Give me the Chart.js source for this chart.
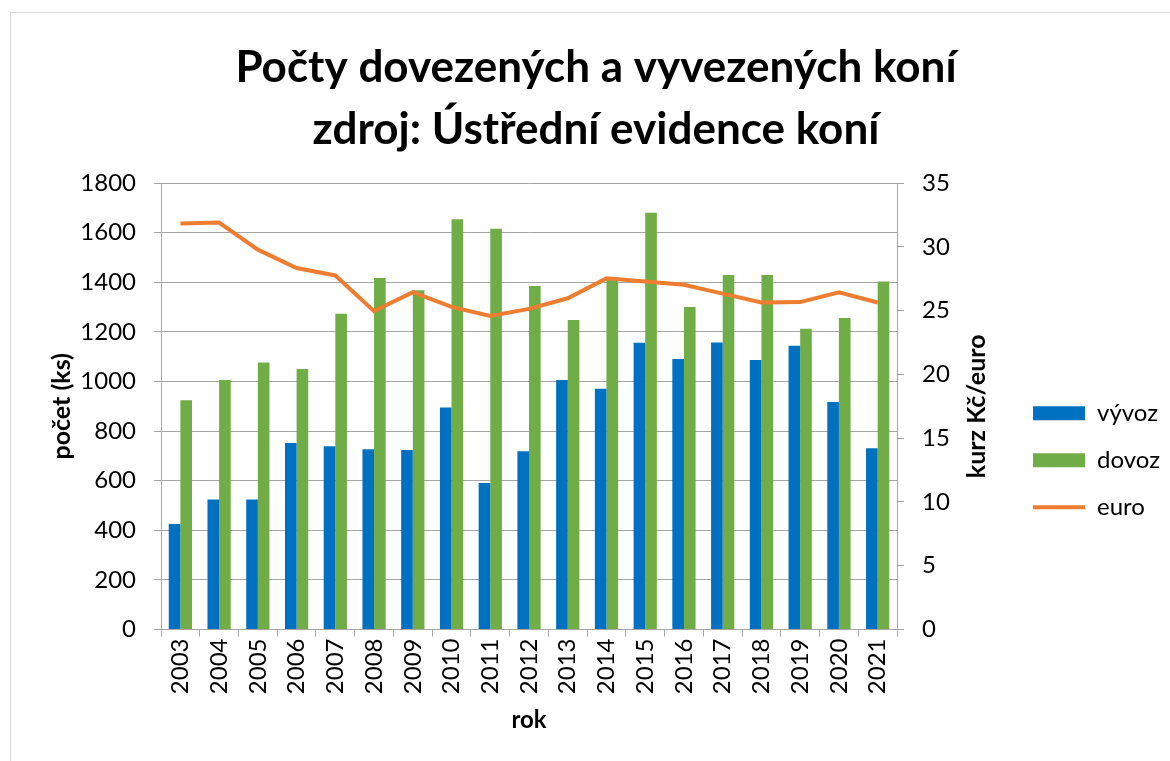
<!DOCTYPE html>
<html>
<head>
<meta charset="utf-8">
<script src="https://cdn.jsdelivr.net/npm/chart.js@4"></script>
<style>
  html, body { margin: 0; padding: 0; background: #fff; }
  #wrap { position: relative; width: 1170px; height: 761px; }
  #frame { position: absolute; left: 10px; top: 12px; width: 1170px; height: 760px; border: 1px solid #d9d9d9; box-sizing: border-box; }
  canvas { position: absolute; left: 0; top: 0; }
</style>
</head>
<body>
<div id="wrap">
  <div id="frame"></div>
  <canvas id="chart" width="1170" height="761"></canvas>
</div>
<script>
// data
const roky = ['2003', '2004', '2005', '2006', '2007', '2008', '2009', '2010', '2011', '2012',
              '2013', '2014', '2015', '2016', '2017', '2018', '2019', '2020', '2021'];
const vyvoz = [425, 524, 524, 752, 739, 727, 724, 895, 591, 719,
               1006, 971, 1156, 1091, 1157, 1087, 1144, 917, 731];
const dovoz = [924, 1006, 1077, 1050, 1273, 1417, 1368, 1654, 1616, 1385,
               1248, 1410, 1680, 1300, 1429, 1429, 1213, 1256, 1403];
const euro = [31.84, 31.90, 29.78, 28.34, 27.76, 24.96, 26.45, 25.29, 24.59, 25.14,
              25.97, 27.53, 27.28, 27.03, 26.33, 25.64, 25.67, 26.44, 25.64];

const FONT = 'Lato';
const GRID = '#a6a6a6';

Chart.defaults.font.family = FONT;
Chart.defaults.color = '#000';

// right axis title reads bottom-to-top like the left one
const rightTitle = {
    id: 'rightTitle',
    afterDraw(chart) {
        const s = chart.scales.y1;
        const a = chart.chartArea;
        const ctx = chart.ctx;
        ctx.save();
        ctx.translate(s.left + 80, (a.top + a.bottom) / 2);
        ctx.rotate(-Math.PI / 2);
        ctx.font = 'bold 25px ' + FONT;
        ctx.fillStyle = '#000';
        ctx.textAlign = 'center';
        ctx.textBaseline = 'middle';
        ctx.fillText('kurz Kč/euro', 0, 0);
        ctx.restore();
    }
};

new Chart(document.getElementById('chart'), {
    type: 'bar',
    data: {
        labels: roky,
        datasets: [
            { label: 'vývoz', data: vyvoz, backgroundColor: '#0070C0', pointStyle: 'rect', order: 1, yAxisID: 'y' },
            { label: 'dovoz', data: dovoz, backgroundColor: '#70AD47', pointStyle: 'rect', order: 1, yAxisID: 'y' },
            {
                type: 'line', label: 'euro', data: euro, yAxisID: 'y1', order: 0,
                borderColor: '#ED7D31', backgroundColor: '#ED7D31', borderWidth: 4,
                pointRadius: 0, pointStyle: 'line', tension: 0
            }
        ]
    },
    options: {
        responsive: false,
        animation: false,
        categoryPercentage: 0.6,
        barPercentage: 1,
        layout: { padding: { left: 22, right: 0, top: 37, bottom: 26 } },
        plugins: {
            title: {
                display: true,
                text: ['Počty dovezených a vyvezených koní', 'zdroj: Ústřední evidence koní'],
                font: { size: 44, weight: 'bold', lineHeight: 1.41 },
                padding: { top: 0, bottom: 22 }
            },
            legend: {
                position: 'right',
                // empty title only pushes the items down to where the original has them
                title: { display: true, text: '', padding: { top: 0, bottom: 134 } },
                labels: {
                    usePointStyle: true,
                    pointStyleWidth: 52,
                    boxHeight: 14,
                    padding: 23,
                    font: { size: 24 },
                    sort: (a, b) => a.datasetIndex - b.datasetIndex
                }
            },
            tooltip: { enabled: false }
        },
        scales: {
            x: {
                grid: { display: true, drawOnChartArea: false, offset: true, color: GRID, tickLength: 7 },
                border: { color: GRID },
                ticks: { font: { size: 24 }, maxRotation: 90, minRotation: 90, padding: 2 },
                title: { display: true, text: 'rok', font: { size: 24, weight: 'bold' }, padding: { top: 10, bottom: 0 } }
            },
            y: {
                position: 'left',
                min: 0, max: 1800,
                ticks: { stepSize: 200, font: { size: 24 }, padding: 18, callback: v => String(v) },
                grid: { color: GRID, tickLength: 7 },
                border: { color: GRID },
                title: { display: true, text: 'počet (ks)', font: { size: 25, weight: 'bold' }, padding: { top: 25, bottom: 0 } },
                afterFit: s => { s.width = 139; }
            },
            y1: {
                position: 'right',
                min: 0, max: 35,
                ticks: { stepSize: 5, font: { size: 24 }, padding: 18 },
                grid: { drawOnChartArea: false, color: GRID, tickLength: 7 },
                border: { color: GRID },
                afterFit: s => { s.width = 113; }
            }
        }
    },
    plugins: [rightTitle]
});
</script>
</body>
</html>
